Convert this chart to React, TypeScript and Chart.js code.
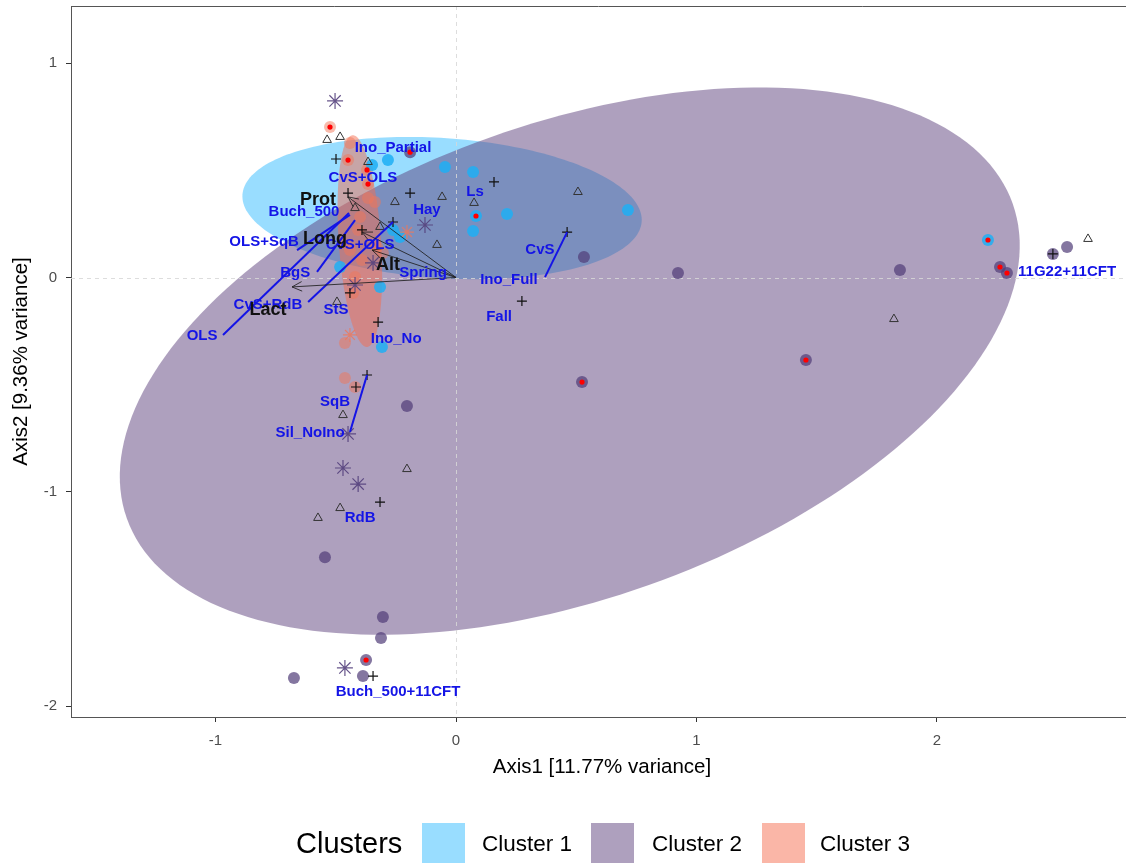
import { useEffect, useRef } from "react";
import { Chart, registerables } from "chart.js";

Chart.register(...registerables);

type Pt = [number, number];

const FONT = "'Liberation Sans', Arial, sans-serif";

// axis extents and ticks
const xRange: Pt = [-1.601, 2.786];
const yRange: Pt = [-2.051, 1.267];
const xTickValues = [-1, 0, 1, 2];
const yTickValues = [-2, -1, 0, 1];
const xTitle = "Axis1 [11.77% variance]";
const yTitle = "Axis2 [9.36% variance]";

const legendTitle = "Clusters";
const clusterNames = ["Cluster 1", "Cluster 2", "Cluster 3"];

// confidence ellipses per cluster: centre plus two conjugate semi-axes (axis units)
const ellipseCentres: Pt[] = [[-0.058, 0.324], [0.473, -0.39], [-0.4, 0.17]];
const ellipseMajor: Pt[] = [[0.83, -0.063], [1.842, 0.734], [-0.029, 0.494]];
const ellipseMinor: Pt[] = [[0.02, 0.326], [-0.329, 1.045], [0.088, 0.0]];

// sample scores coloured by cluster
const cluster1Points: Pt[] = [
  [-0.046, 0.516], [0.071, 0.492], [0.212, 0.296], [0.071, 0.217], [0.715, 0.315],
  [0.083, 0.287], [2.212, 0.175], [-0.283, 0.548], [-0.349, 0.525], [-0.316, -0.044],
  [-0.308, -0.324], [-0.233, 0.189], [-0.262, 0.222], [-0.482, 0.049],
];
const cluster2Points: Pt[] = [
  [2.262, 0.049], [2.291, 0.021], [2.482, 0.11], [2.541, 0.142], [1.846, 0.035],
  [0.923, 0.021], [1.455, -0.385], [0.524, -0.488], [0.532, 0.096], [-0.204, -0.6],
  [-0.545, -1.305], [-0.304, -1.584], [-0.312, -1.682], [-0.374, -1.785], [-0.674, -1.869],
  [-0.387, -1.86], [-0.191, 0.585],
];
const cluster3Points: Pt[] = [
  [-0.524, 0.702], [-0.449, 0.548], [-0.37, 0.502], [-0.366, 0.436], [-0.441, 0.628],
  [-0.337, 0.352], [-0.366, 0.371], [-0.399, 0.282], [-0.407, 0.222], [-0.328, 0.142],
  [-0.441, 0.128], [-0.391, 0.082], [-0.42, 0.002], [-0.428, -0.072], [-0.462, -0.306],
  [-0.462, -0.469], [-0.42, -0.511], [-0.304, 0.114],
];

// other sample groups
const trianglePoints: Pt[] = [
  [-0.536, 0.642], [-0.482, 0.656], [-0.366, 0.539], [-0.254, 0.352], [-0.058, 0.376],
  [-0.079, 0.152], [-0.316, 0.236], [-0.42, 0.324], [-0.495, -0.114], [0.075, 0.348],
  [0.507, 0.399], [-0.47, -0.642], [-0.204, -0.894], [-0.482, -1.076], [-0.574, -1.122],
  [2.628, 0.18], [1.821, -0.194],
];
const plusPoints: Pt[] = [
  [-0.499, 0.553], [-0.191, 0.394], [-0.449, 0.394], [-0.262, 0.259], [-0.391, 0.222],
  [-0.324, -0.208], [-0.441, -0.072], [0.158, 0.446], [0.462, 0.212], [0.274, -0.11],
  [-0.37, -0.455], [-0.416, -0.511], [-0.316, -1.048], [-0.345, -1.86], [2.482, 0.11],
];
const starPoints: Pt[] = [
  [-0.503, 0.824], [-0.129, 0.245], [-0.345, 0.068], [-0.42, -0.035], [-0.449, -0.73],
  [-0.47, -0.889], [-0.407, -0.964], [-0.462, -1.822],
];
const starPointsWarm: Pt[] = [[-0.204, 0.212], [-0.441, -0.268]];
const highlightPoints: Pt[] = [
  [-0.524, 0.702], [-0.449, 0.548], [-0.37, 0.502], [-0.366, 0.436], [0.083, 0.287],
  [2.212, 0.175], [2.262, 0.049], [2.291, 0.021], [1.455, -0.385], [0.524, -0.488],
  [-0.374, -1.785], [-0.191, 0.585],
];

// trait vectors drawn from the origin
const vectorNames = ["Prot", "Long", "Alt", "Lact"];
const vectorEnds: Pt[] = [[-0.449, 0.376], [-0.391, 0.212], [-0.349, 0.128], [-0.682, -0.044]];
const vectorLabelPos: Pt[] = [[-0.574, 0.362], [-0.545, 0.18], [-0.283, 0.058], [-0.782, -0.152]];

// factor level labels
const factorNames = [
  "Ino_Partial", "CvS+OLS", "Buch_500", "Hay", "Ls", "OLS+SqB", "CvS+OLS", "Spring",
  "BgS", "CvS+RdB", "OLS", "StS", "Ino_No", "CvS", "Ino_Full", "Fall", "SqB",
  "Sil_NoIno", "RdB", "Buch_500+11CFT", "11G22+11CFT",
];
const factorLabelPos: Pt[] = [
  [-0.262, 0.604], [-0.387, 0.464], [-0.632, 0.306], [-0.121, 0.315], [0.079, 0.399],
  [-0.798, 0.166], [-0.399, 0.152], [-0.137, 0.021], [-0.669, 0.021], [-0.782, -0.128],
  [-1.056, -0.273], [-0.499, -0.152], [-0.249, -0.287], [0.349, 0.128], [0.22, -0.012],
  [0.179, -0.184], [-0.503, -0.581], [-0.607, -0.726], [-0.399, -1.122], [-0.241, -1.934],
  [2.541, 0.026],
];
// leader segments from displaced labels back to their points
const leaderFrom: Pt[] = [
  [-0.969, -0.268], [-0.661, 0.128], [-0.578, 0.026], [-0.615, -0.114], [0.37, 0.002], [-0.441, -0.721],
];
const leaderTo: Pt[] = [
  [-0.445, 0.301], [-0.441, 0.292], [-0.42, 0.268], [-0.262, 0.259], [0.462, 0.212], [-0.37, -0.455],
];

const ellipseFills = ["rgba(51,187,255,0.5)", "rgba(93,65,125,0.5)", "rgba(245,110,80,0.5)"];

const toData = (pts: Pt[]) => pts.map(([x, y]) => ({ x, y }));

const overlayPlugin = {
  id: "biplotOverlay",
  beforeDatasetsDraw(chart: any) {
    const { ctx, chartArea, scales } = chart;
    const xs = scales.x;
    const ys = scales.y;
    ctx.save();
    ctx.beginPath();
    ctx.rect(chartArea.left, chartArea.top, chartArea.right - chartArea.left, chartArea.bottom - chartArea.top);
    ctx.clip();
    ellipseCentres.forEach((c, k) => {
      const u = ellipseMajor[k];
      const v = ellipseMinor[k];
      ctx.beginPath();
      for (let i = 0; i <= 200; i++) {
        const t = (i / 200) * Math.PI * 2;
        const px = xs.getPixelForValue(c[0] + u[0] * Math.cos(t) + v[0] * Math.sin(t));
        const py = ys.getPixelForValue(c[1] + u[1] * Math.cos(t) + v[1] * Math.sin(t));
        if (i === 0) ctx.moveTo(px, py);
        else ctx.lineTo(px, py);
      }
      ctx.closePath();
      ctx.fillStyle = ellipseFills[k];
      ctx.fill();
    });
    // dashed reference lines through the origin
    ctx.strokeStyle = "rgba(215,215,215,0.85)";
    ctx.lineWidth = 1;
    ctx.setLineDash([4, 4]);
    const x0 = Math.round(xs.getPixelForValue(0)) + 0.5;
    const y0 = Math.round(ys.getPixelForValue(0)) + 0.5;
    ctx.beginPath();
    ctx.moveTo(x0, chartArea.top);
    ctx.lineTo(x0, chartArea.bottom);
    ctx.moveTo(chartArea.left, y0);
    ctx.lineTo(chartArea.right, y0);
    ctx.stroke();
    ctx.restore();
  },
  afterDatasetsDraw(chart: any) {
    const { ctx, scales } = chart;
    const xs = scales.x;
    const ys = scales.y;
    const P = (p: Pt) => [xs.getPixelForValue(p[0]), ys.getPixelForValue(p[1])];
    ctx.save();
    // leader segments
    ctx.strokeStyle = "#1414E6";
    ctx.lineWidth = 2;
    leaderFrom.forEach((s, i) => {
      const [ax, ay] = P(s);
      const [bx, by] = P(leaderTo[i]);
      ctx.beginPath();
      ctx.moveTo(ax, ay);
      ctx.lineTo(bx, by);
      ctx.stroke();
    });
    // trait vectors with arrow heads
    const [ox, oy] = P([0, 0]);
    ctx.strokeStyle = "rgba(30,30,30,0.85)";
    ctx.lineWidth = 1;
    vectorEnds.forEach((e) => {
      const [ex, ey] = P(e);
      const ang = Math.atan2(ey - oy, ex - ox);
      const h = 11;
      ctx.beginPath();
      ctx.moveTo(ox, oy);
      ctx.lineTo(ex, ey);
      ctx.moveTo(ex - h * Math.cos(ang - 0.45), ey - h * Math.sin(ang - 0.45));
      ctx.lineTo(ex, ey);
      ctx.lineTo(ex - h * Math.cos(ang + 0.45), ey - h * Math.sin(ang + 0.45));
      ctx.stroke();
    });
    // factor labels
    ctx.textAlign = "center";
    ctx.textBaseline = "middle";
    ctx.fillStyle = "#1414E6";
    ctx.font = `bold 15px ${FONT}`;
    factorNames.forEach((name, i) => {
      const [x, y] = P(factorLabelPos[i]);
      ctx.fillText(name, x, y);
    });
    ctx.fillStyle = "#111";
    ctx.font = `bold 18px ${FONT}`;
    vectorNames.forEach((name, i) => {
      const [x, y] = P(vectorLabelPos[i]);
      ctx.fillText(name, x, y);
    });
    ctx.restore();
  },
  afterDraw(chart: any) {
    const { ctx, chartArea } = chart;
    ctx.save();
    // top edge of the panel
    ctx.strokeStyle = "#555";
    ctx.lineWidth = 1;
    ctx.beginPath();
    ctx.moveTo(chartArea.left, chartArea.top + 0.5);
    ctx.lineTo(chartArea.right, chartArea.top + 0.5);
    ctx.stroke();
    // axis titles
    ctx.fillStyle = "#000";
    ctx.font = `20.5px ${FONT}`;
    ctx.textAlign = "center";
    ctx.textBaseline = "middle";
    ctx.fillText(xTitle, 602, 767);
    ctx.save();
    ctx.translate(21, (chartArea.top + chartArea.bottom) / 2);
    ctx.rotate(-Math.PI / 2);
    ctx.fillText(yTitle, 0, 0);
    ctx.restore();
    // legend
    ctx.textAlign = "left";
    ctx.font = `29px ${FONT}`;
    ctx.fillText(legendTitle, 296, 845);
    const boxX = [422, 591, 762];
    const textX = [482, 652, 820];
    ctx.font = `22.5px ${FONT}`;
    clusterNames.forEach((name, i) => {
      ctx.fillStyle = "#fff";
      ctx.fillRect(boxX[i], 823, 43, 42);
      ctx.fillStyle = ellipseFills[i];
      ctx.fillRect(boxX[i], 823, 43, 42);
      ctx.fillStyle = "#000";
      ctx.fillText(name, textX[i], 845);
    });
    ctx.restore();
  },
};

const zeroPadding = (s: any) => {
  s.paddingTop = 0;
  s.paddingBottom = 0;
  s.paddingLeft = 0;
  s.paddingRight = 0;
};

export default function App() {
  const ref = useRef<HTMLCanvasElement>(null);

  useEffect(() => {
    const canvas = ref.current;
    if (!canvas) return;
    const chart = new Chart(canvas, {
      type: "scatter",
      data: {
        datasets: [
          {
            label: "highlight",
            data: toData(highlightPoints),
            pointStyle: "circle",
            pointRadius: 2.6,
            pointBackgroundColor: "#FF0000",
            pointBorderWidth: 0,
            order: 0,
          },
          {
            label: "plus",
            data: toData(plusPoints),
            pointStyle: "cross",
            pointRadius: 5,
            pointBorderColor: "#111",
            pointBorderWidth: 1.2,
            order: 1,
          },
          {
            label: "triangle",
            data: toData(trianglePoints),
            pointStyle: "triangle",
            pointRadius: 5,
            pointBackgroundColor: "rgba(0,0,0,0)",
            pointBorderColor: "#333",
            pointBorderWidth: 1,
            order: 2,
          },
          {
            label: "star",
            data: toData(starPoints),
            pointStyle: "star",
            pointRadius: 8,
            pointBorderColor: "rgba(85,65,125,0.9)",
            pointBorderWidth: 1.2,
            order: 3,
          },
          {
            label: "starWarm",
            data: toData(starPointsWarm),
            pointStyle: "star",
            pointRadius: 7,
            pointBorderColor: "rgba(240,120,90,0.8)",
            pointBorderWidth: 1.2,
            order: 4,
          },
          {
            label: clusterNames[0],
            data: toData(cluster1Points),
            pointStyle: "circle",
            pointRadius: 6,
            pointBackgroundColor: "rgba(30,175,245,0.85)",
            pointBorderWidth: 0,
            order: 5,
          },
          {
            label: clusterNames[2],
            data: toData(cluster3Points),
            pointStyle: "circle",
            pointRadius: 6,
            pointBackgroundColor: "rgba(242,120,90,0.5)",
            pointBorderWidth: 0,
            order: 6,
          },
          {
            label: clusterNames[1],
            data: toData(cluster2Points),
            pointStyle: "circle",
            pointRadius: 6,
            pointBackgroundColor: "rgba(80,60,120,0.7)",
            pointBorderWidth: 0,
            order: 7,
          },
        ],
      },
      options: {
        responsive: false,
        animation: false,
        devicePixelRatio: 1,
        layout: { autoPadding: false, padding: { top: 6, right: 0, bottom: 0, left: 0 } },
        plugins: { legend: { display: false }, tooltip: { enabled: false } },
        scales: {
          x: {
            type: "linear",
            min: xRange[0],
            max: xRange[1],
            afterBuildTicks: (s: any) => {
              s.ticks = xTickValues.map((value) => ({ value }));
            },
            afterFit: (s: any) => {
              s.height = 146;
              zeroPadding(s);
            },
            grid: { drawOnChartArea: false, drawTicks: true, tickLength: 5, tickColor: "#333" },
            border: { display: true, color: "#555", width: 1 },
            ticks: {
              color: "#4D4D4D",
              font: { family: FONT, size: 15 },
              padding: 10,
              maxRotation: 0,
              autoSkip: false,
              callback: (v: any) => String(v),
            },
          },
          y: {
            type: "linear",
            min: yRange[0],
            max: yRange[1],
            afterBuildTicks: (s: any) => {
              s.ticks = yTickValues.map((value) => ({ value }));
            },
            afterFit: (s: any) => {
              s.width = 71;
              zeroPadding(s);
            },
            grid: { drawOnChartArea: false, drawTicks: true, tickLength: 5, tickColor: "#333" },
            border: { display: true, color: "#555", width: 1 },
            ticks: {
              color: "#4D4D4D",
              font: { family: FONT, size: 15 },
              padding: 9,
              autoSkip: false,
              callback: (v: any) => String(v),
            },
          },
        },
      },
      plugins: [overlayPlugin],
    } as any);
    return () => chart.destroy();
  }, []);

  return (
    <div style={{ position: "fixed", left: 0, top: 0, width: 1126, height: 863, background: "#fff" }}>
      <canvas ref={ref} width={1126} height={863} style={{ display: "block", width: 1126, height: 863 }} />
    </div>
  );
}
